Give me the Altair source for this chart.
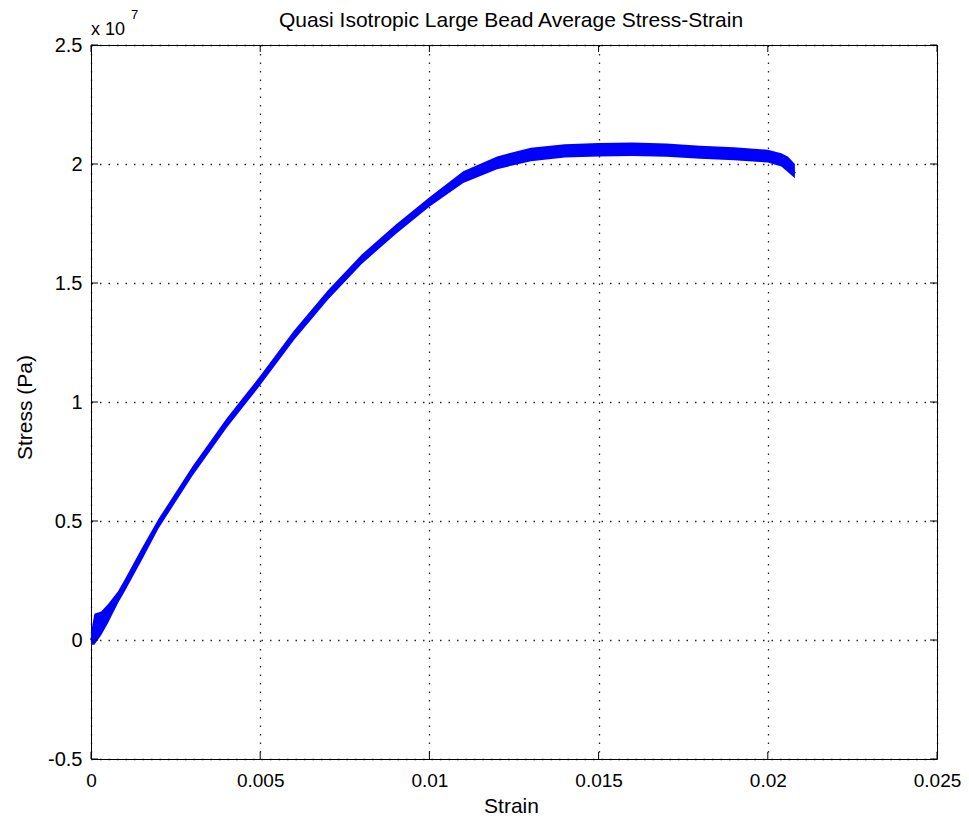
import altair as alt
import pandas as pd

# ---- data (stress in units of 1e7 Pa) ----
strain = [0, 0.0001, 0.0003, 0.0005, 0.0008, 0.001, 0.0015, 0.002, 0.003, 0.004,
          0.0045, 0.005, 0.006, 0.007, 0.008, 0.009, 0.010, 0.011, 0.012, 0.013,
          0.014, 0.015, 0.016, 0.017, 0.018, 0.019, 0.020, 0.0204, 0.0206, 0.0208]
stress_mid = [0, 0.03, 0.07, 0.11, 0.18, 0.23, 0.36, 0.49, 0.71, 0.91,
              1.00, 1.09, 1.28, 1.45, 1.60, 1.725, 1.84, 1.945, 2.005, 2.04,
              2.055, 2.06, 2.062, 2.058, 2.05, 2.043, 2.033, 2.02, 2.0, 1.96]
stress_low = [-0.02, -0.02, 0.02, 0.07, 0.155, 0.205, 0.335, 0.47, 0.69, 0.89,
              0.98, 1.07, 1.26, 1.43, 1.58, 1.705, 1.82, 1.92, 1.978, 2.012,
              2.027, 2.032, 2.034, 2.03, 2.022, 2.016, 2.006, 1.99, 1.965, 1.94]
stress_high = [0.03, 0.11, 0.12, 0.15, 0.205, 0.255, 0.385, 0.51, 0.73, 0.93,
               1.02, 1.11, 1.30, 1.47, 1.62, 1.745, 1.86, 1.97, 2.032, 2.068,
               2.083, 2.088, 2.09, 2.086, 2.077, 2.07, 2.06, 2.045, 2.03, 2.0]

x_ticks = [0, 0.005, 0.01, 0.015, 0.02, 0.025]
y_ticks = [-0.5, 0, 0.5, 1, 1.5, 2, 2.5]

title_text = "Quasi Isotropic Large Bead Average Stress-Strain"
exp_text = "x 10"
exp_power = "7"

W, H = 846, 714
FONT = "Liberation Sans"

df = pd.DataFrame({"strain": strain, "mid": stress_mid,
                   "low": stress_low, "high": stress_high})
xt = pd.DataFrame({"t": x_ticks})
yt = pd.DataFrame({"t": y_ticks})

xs = alt.Scale(domain=[0, 0.025], nice=False, zero=False)
ys = alt.Scale(domain=[-0.5, 2.5], nice=False, zero=False)

common = dict(grid=True, tickSize=0, domain=False, labelFlush=False,
              labelExpr="'' + datum.value",
              labelFont=FONT, labelColor="black",
              titleFont=FONT, titleFontSize=21, titleFontWeight="normal",
              titleColor="black", gridColor="black", gridDash=[1.5, 7],
              gridWidth=1.3, gridOpacity=0.85, titleBaseline="alphabetic",
              titleAlign="center")
x_axis = alt.Axis(values=x_ticks, title="Strain", labelFontSize=19,
                  labelBaseline="alphabetic", labelPadding=27,
                  titleX=W / 2 - 3, titleY=53, **common)
y_axis = alt.Axis(values=y_ticks, title="Stress (Pa)", labelFontSize=20,
                  labelPadding=9, titleX=-60, titleY=H / 2 + 5, titleAngle=270,
                  **common)

band = alt.Chart(df).mark_area(color="#0000FF", opacity=1).encode(
    x=alt.X("strain:Q", scale=xs, axis=x_axis),
    y=alt.Y("low:Q", scale=ys, axis=y_axis),
    y2="high:Q",
)
line = alt.Chart(df).mark_line(color="#0000FF", strokeWidth=2.5).encode(
    x=alt.X("strain:Q", scale=xs),
    y=alt.Y("mid:Q", scale=ys),
)

tick_style = dict(color="black", strokeWidth=1)
xt_bot = alt.Chart(xt).mark_rule(**tick_style).encode(
    x=alt.X("t:Q", scale=xs), y=alt.value(H), y2=alt.value(H - 7))
xt_top = alt.Chart(xt).mark_rule(**tick_style).encode(
    x=alt.X("t:Q", scale=xs), y=alt.value(0), y2=alt.value(7))
yt_left = alt.Chart(yt).mark_rule(**tick_style).encode(
    y=alt.Y("t:Q", scale=ys), x=alt.value(0), x2=alt.value(7))
yt_right = alt.Chart(yt).mark_rule(**tick_style).encode(
    y=alt.Y("t:Q", scale=ys), x=alt.value(W), x2=alt.value(W - 7))

title_mark = alt.Chart(pd.DataFrame({"s": [title_text]})).mark_text(
    align="center", baseline="alphabetic", font=FONT, fontSize=21, color="black"
).encode(text="s:N", x=alt.value(W / 2 - 3), y=alt.value(-18))
exp_base = alt.Chart(pd.DataFrame({"s": [exp_text]})).mark_text(
    align="left", baseline="alphabetic", font=FONT, fontSize=18, color="black"
).encode(text="s:N", x=alt.value(0), y=alt.value(-10))
exp_sup = alt.Chart(pd.DataFrame({"s": [exp_power]})).mark_text(
    align="left", baseline="alphabetic", font=FONT, fontSize=13, color="black"
).encode(text="s:N", x=alt.value(40), y=alt.value(-26))

chart = alt.layer(band, line, xt_bot, xt_top, yt_left, yt_right,
                  title_mark, exp_base, exp_sup).properties(
    width=W, height=H,
    autosize=alt.AutoSizeParams(type="none"),
    padding={"left": 83, "top": 37, "right": 24, "bottom": 56},
    background="white",
).configure_view(
    stroke="black", strokeWidth=1
)

chart.save("out.html", embed_options={"renderer": "svg", "actions": False})
